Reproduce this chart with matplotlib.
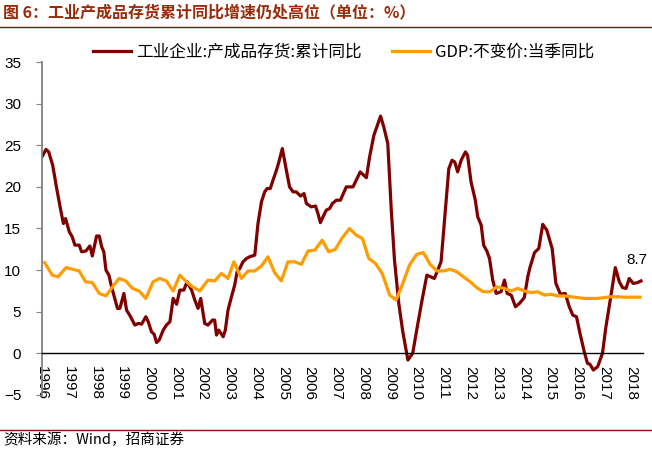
import matplotlib
matplotlib.use("Agg")
import matplotlib.pyplot as plt

plt.rcParams['font.family'] = ['Liberation Sans', 'Noto Sans CJK SC', 'DejaVu Sans']

# 工业企业:产成品存货:累计同比
inv_t = [1996.0, 1996.15, 1996.25, 1996.4, 1996.55, 1996.7, 1996.8, 1996.88, 1997.02, 1997.13,
         1997.23, 1997.39, 1997.48, 1997.64, 1997.79, 1997.88, 1998.04, 1998.14, 1998.23, 1998.31,
         1998.39, 1998.5, 1998.6, 1998.72, 1998.82, 1998.91, 1999.06, 1999.16, 1999.31, 1999.47,
         1999.6, 1999.72, 1999.88, 1999.97, 2000.09, 2000.19, 2000.28, 2000.38, 2000.53, 2000.65,
         2000.78, 2000.9, 2001.03, 2001.15, 2001.3, 2001.42, 2001.59, 2001.71, 2001.83, 2001.93,
         2002.08, 2002.2, 2002.37, 2002.45, 2002.52, 2002.6, 2002.77, 2002.85, 2002.95, 2003.08,
         2003.2, 2003.29, 2003.39, 2003.51, 2003.64, 2003.76, 2003.95, 2004.07, 2004.2, 2004.32,
         2004.41, 2004.53, 2004.63, 2004.76, 2004.85, 2004.98, 2005.13, 2005.25, 2005.38, 2005.5,
         2005.66, 2005.79, 2005.88, 2006.06, 2006.22, 2006.31, 2006.4, 2006.5, 2006.62, 2006.75,
         2006.85, 2007.0, 2007.15, 2007.37, 2007.62, 2007.89, 2008.12, 2008.24, 2008.4, 2008.65,
         2008.77, 2008.92, 2009.05, 2009.17, 2009.33, 2009.48, 2009.67, 2009.85, 2010.0, 2010.2,
         2010.38, 2010.66, 2010.91, 2011.07, 2011.2, 2011.32, 2011.42, 2011.53, 2011.66, 2011.82,
         2011.9, 2012.03, 2012.19, 2012.28, 2012.41, 2012.5, 2012.62, 2012.72, 2012.84, 2012.97,
         2013.15, 2013.28, 2013.38, 2013.53, 2013.69, 2013.84, 2014.02, 2014.15, 2014.23, 2014.4,
         2014.56, 2014.71, 2014.86, 2015.06, 2015.2, 2015.37, 2015.55, 2015.7, 2015.83, 2015.97,
         2016.1, 2016.26, 2016.38, 2016.47, 2016.6, 2016.76, 2016.94, 2017.07, 2017.26, 2017.42,
         2017.57, 2017.69, 2017.82, 2017.94, 2018.09, 2018.25, 2018.38]
inv_v = [23.6, 24.5, 24.2, 22.6, 19.8, 17.2, 15.6, 16.2, 14.6, 14.0,
         13.0, 13.0, 12.2, 12.3, 12.9, 11.7, 14.1, 14.1, 12.8, 12.2,
         10.0, 9.4, 8.0, 6.6, 5.4, 5.4, 7.2, 5.2, 4.4, 3.4,
         3.6, 3.5, 4.4, 3.8, 2.6, 2.3, 1.3, 1.6, 2.8, 3.4,
         3.8, 6.6, 5.9, 7.6, 7.6, 8.6, 7.6, 6.4, 5.4, 6.6,
         3.6, 3.4, 4.0, 4.0, 2.2, 2.8, 2.0, 2.8, 5.2, 6.8,
         8.2, 9.8, 10.2, 11.0, 11.4, 11.6, 11.8, 15.6, 18.2, 19.4,
         19.8, 19.8, 20.8, 22.0, 23.0, 24.6, 22.0, 20.0, 19.4, 19.4,
         18.9, 19.2, 18.0, 17.6, 17.7, 16.8, 15.7, 16.4, 17.2, 17.4,
         18.0, 18.4, 18.4, 20.0, 20.0, 21.8, 21.1, 23.6, 26.2, 28.5,
         27.2, 25.2, 17.2, 11.2, 6.0, 2.6, -0.8, 0.0, 2.8, 6.4,
         9.4, 9.0, 11.0, 17.2, 22.2, 23.2, 23.0, 21.8, 23.2, 24.2,
         23.8, 20.6, 18.4, 16.4, 15.4, 13.0, 12.3, 11.4, 8.8, 7.2,
         7.4, 8.8, 7.2, 7.0, 5.6, 6.0, 6.7, 9.2, 10.3, 12.1,
         12.6, 15.5, 14.8, 12.6, 8.4, 7.1, 7.2, 5.6, 4.6, 4.4,
         2.4, 0.2, -1.2, -1.3, -2.0, -1.6, 0.0, 3.2, 7.0, 10.3,
         8.6, 7.9, 7.8, 9.0, 8.4, 8.5, 8.7]

# GDP:不变价:当季同比
gdp_t = [1996.1, 1996.38, 1996.6, 1996.9, 1997.15, 1997.39, 1997.63, 1997.88, 1998.14, 1998.39,
         1998.64, 1998.88, 1999.13, 1999.38, 1999.63, 1999.88, 2000.15, 2000.4, 2000.65, 2000.9,
         2001.15, 2001.4, 2001.62, 2001.9, 2002.2, 2002.45, 2002.7, 2002.95, 2003.17, 2003.45,
         2003.7, 2003.95, 2004.2, 2004.44, 2004.69, 2004.94, 2005.19, 2005.44, 2005.69, 2005.94,
         2006.19, 2006.47, 2006.71, 2006.96, 2007.2, 2007.49, 2007.74, 2007.97, 2008.21, 2008.46,
         2008.71, 2008.99, 2009.23, 2009.48, 2009.73, 2010.0, 2010.25, 2010.5, 2010.75, 2011.0,
         2011.25, 2011.5, 2011.75, 2012.0, 2012.24, 2012.49, 2012.74, 2012.99, 2013.28, 2013.53,
         2013.77, 2014.02, 2014.27, 2014.52, 2014.77, 2015.02, 2015.27, 2015.52, 2015.76, 2016.01,
         2016.26, 2016.51, 2016.76, 2017.0, 2017.26, 2017.5, 2017.75, 2018.0, 2018.34]
gdp_v = [10.9, 9.4, 9.2, 10.3, 10.1, 9.9, 8.6, 8.5, 7.2, 6.9,
         8.0, 9.0, 8.7, 7.8, 7.5, 6.6, 8.6, 9.0, 8.7, 7.5,
         9.4, 8.6, 8.0, 7.5, 8.8, 8.7, 9.6, 9.0, 11.0, 9.0,
         9.9, 9.9, 10.5, 11.6, 9.7, 8.7, 11.0, 11.0, 10.7, 12.3,
         12.4, 13.6, 12.2, 12.5, 13.8, 15.0, 14.2, 13.8, 11.4, 10.8,
         9.6, 7.0, 6.4, 8.4, 10.6, 11.9, 12.1, 10.7, 9.9, 9.9,
         10.1, 9.8, 9.2, 8.6, 7.9, 7.4, 7.4, 8.0, 7.8, 7.5,
         7.8, 7.5, 7.3, 7.4, 7.0, 7.1, 6.9, 6.9, 6.8, 6.7,
         6.6, 6.6, 6.6, 6.7, 6.8, 6.8, 6.75, 6.75, 6.75]

years = list(range(1996, 2019))
yticks = [-5, 0, 5, 10, 15, 20, 25, 30, 35]

title = '图 6：工业产成品存货累计同比增速仍处高位（单位：%）'
source = '资料来源：Wind，招商证券'
inv_name = '工业企业:产成品存货:累计同比'
gdp_name = 'GDP:不变价:当季同比'

c_inv = '#800000'
c_gdp = '#FF9C00'
c_rule = '#8B1010'

fig = plt.figure(figsize=(6.52, 4.51), dpi=100)
ax = fig.add_axes([0.0644, 0.1242, 0.9216, 0.7383])

l1, = ax.plot(inv_t, inv_v, color=c_inv, lw=2.3, solid_joinstyle='round')
l2, = ax.plot(gdp_t, gdp_v, color=c_gdp, lw=2.3, solid_joinstyle='round')

ax.annotate(f'{inv_v[-1]}', xy=(inv_t[-1], inv_v[-1]), xytext=(-3, 10),
            textcoords='offset points', ha='center', va='bottom', fontsize=11)

ax.set_xlim(1996, 2018.45)
ax.set_ylim(-5, 35)
ax.set_yticks(yticks)
ax.set_xticks(years)
ax.tick_params(axis='x', length=0, pad=9, labelsize=11, labelrotation=-90)
ax.tick_params(axis='y', length=4, pad=11, labelsize=11, color='#808080', direction='out')
ax.set_xticklabels([str(y) for y in years])

for s in ['top', 'right']:
    ax.spines[s].set_visible(False)
ax.spines['left'].set_color('#808080')
ax.spines['left'].set_linewidth(1.3)
ax.spines['bottom'].set_position(('data', 0))
ax.spines['bottom'].set_color('black')
ax.spines['bottom'].set_linewidth(1.0)

fig.legend([l1, l2], [inv_name, gdp_name], loc='center left',
           bbox_to_anchor=(0.1426, 0.885), ncol=2, frameon=False,
           borderpad=0, borderaxespad=0, handlelength=2.3, handletextpad=0.3,
           columnspacing=1.8, prop={'family': ['Noto Sans CJK SC'], 'size': 12})

fig.text(0.005, 0.973, title, fontsize=11.5, fontweight='bold', color='#9A2A0A',
         va='center', ha='left', family=['Noto Sans CJK SC'])
fig.add_artist(plt.Line2D([0, 1], [0.94, 0.94], color=c_rule, lw=1.0))
fig.add_artist(plt.Line2D([0, 1], [0.046, 0.046], color=c_rule, lw=1.0))
fig.text(0.005, 0.024, source, fontsize=10.5, va='center', ha='left',
         family=['Noto Sans CJK SC'])

fig.savefig('out.png', dpi=100)
